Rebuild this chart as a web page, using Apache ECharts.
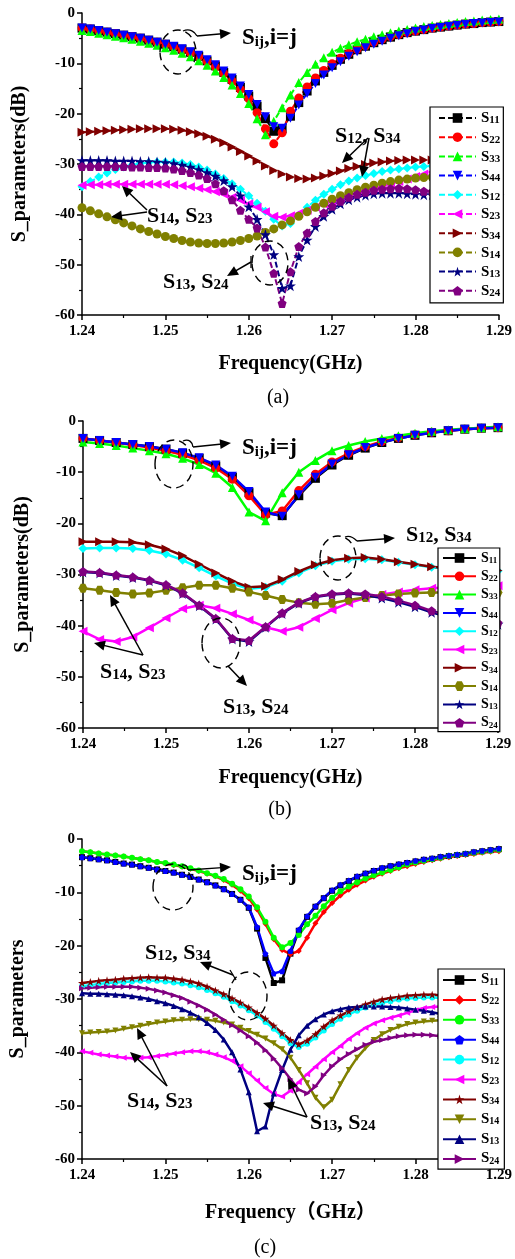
<!DOCTYPE html>
<html><head><meta charset="utf-8">
<script src="https://cdn.jsdelivr.net/npm/echarts@6/dist/echarts.min.js"></script>
<style>html,body{margin:0;padding:0;background:#fff}#c{width:515px;height:1259px}</style>
</head><body><div id="c"></div>
<script>
// ---------- tick labels & categories ----------
const X_TICKS = ['1.24','1.25','1.26','1.27','1.28','1.29'];
const Y_TICKS = ['-60','-50','-40','-30','-20','-10','0'];
const NAMES = ['S11','S22','S33','S44','S12','S23','S34','S14','S13','S24'];

// frequency sampling grids (GHz)
function grid(start, step, n){ const a=[]; for(let i=0;i<n;i++) a.push(+(start+i*step).toFixed(4)); return a; }
const FREQ_A = grid(1.24, 0.001, 51);
const FREQ_B = grid(1.24, 0.002, 26);
const FREQ_C = grid(1.24, 0.001, 51);

// ---------- panel (a) ----------
const A_S11 = [-3.0,-3.2,-3.5,-3.8,-4.1,-4.4,-4.7,-5.0,-5.4,-5.8,-6.2,-6.7,-7.2,-7.8,-8.6,-9.5,-10.5,-11.8,-13.2,-14.8,-16.5,-18.5,-21.0,-23.5,-23.0,-20.5,-17.8,-15.5,-13.5,-11.8,-10.4,-9.2,-8.2,-7.3,-6.6,-5.9,-5.3,-4.8,-4.3,-3.9,-3.6,-3.3,-3.0,-2.8,-2.6,-2.4,-2.2,-2.1,-1.9,-1.8,-1.7];
const A_S22 = [-3.0,-3.2,-3.5,-3.8,-4.1,-4.4,-4.7,-5.0,-5.4,-5.8,-6.2,-6.7,-7.3,-7.9,-8.7,-9.6,-10.7,-12.0,-13.5,-15.2,-17.0,-19.8,-23.0,-26.0,-23.8,-19.5,-16.9,-14.7,-12.9,-11.4,-10.1,-9.0,-8.0,-7.2,-6.5,-5.8,-5.2,-4.7,-4.3,-3.9,-3.6,-3.3,-3.0,-2.8,-2.6,-2.4,-2.2,-2.1,-1.9,-1.8,-1.7];
const A_S33 = [-3.5,-3.7,-4.0,-4.3,-4.6,-4.9,-5.2,-5.6,-6.0,-6.4,-6.9,-7.4,-8.0,-8.7,-9.5,-10.4,-11.5,-12.8,-14.3,-16.0,-18.0,-21.0,-24.2,-21.5,-18.8,-16.3,-13.8,-11.8,-10.2,-8.9,-7.8,-7.0,-6.3,-5.7,-5.2,-4.7,-4.3,-3.9,-3.6,-3.3,-3.0,-2.7,-2.5,-2.3,-2.1,-1.9,-1.7,-1.6,-1.4,-1.3,-1.2];
const A_S44 = [-3.0,-3.2,-3.5,-3.8,-4.1,-4.4,-4.7,-5.0,-5.4,-5.8,-6.2,-6.6,-7.1,-7.7,-8.4,-9.3,-10.3,-11.5,-12.9,-14.5,-16.2,-18.2,-20.6,-22.6,-22.9,-20.9,-18.3,-16.0,-14.0,-12.3,-10.9,-9.7,-8.6,-7.7,-6.9,-6.2,-5.6,-5.0,-4.5,-4.1,-3.7,-3.4,-3.1,-2.9,-2.7,-2.5,-2.3,-2.1,-2.0,-1.9,-1.8];
const A_S12 = [-34.5,-33.5,-32.6,-31.8,-31.1,-30.6,-30.2,-29.9,-29.7,-29.6,-29.6,-29.6,-29.8,-30.1,-30.6,-31.2,-32.0,-32.9,-33.9,-35.0,-36.3,-37.8,-39.4,-41.0,-42.3,-41.8,-40.2,-38.6,-37.2,-36.0,-35.0,-34.1,-33.4,-32.8,-32.3,-31.9,-31.5,-31.2,-31.0,-30.8,-30.6,-30.5,-30.4,-30.4,-30.3,-30.3,-30.3,-30.2,-30.2,-30.2,-30.2];
const A_S23 = [-34.2,-34.1,-34.1,-34.0,-34.0,-34.0,-34.0,-34.0,-34.0,-34.0,-34.0,-34.1,-34.3,-34.5,-34.8,-35.1,-35.5,-36.0,-36.6,-37.2,-37.9,-38.6,-39.5,-40.4,-40.6,-40.3,-39.8,-39.2,-38.6,-38.0,-37.4,-36.8,-36.3,-35.8,-35.3,-34.9,-34.4,-34.0,-33.5,-33.0,-32.5,-32.0,-31.6,-31.3,-31.0,-30.8,-30.7,-30.6,-30.6,-30.5,-30.5];
const A_S34 = [-23.7,-23.6,-23.5,-23.4,-23.3,-23.2,-23.1,-23.0,-23.0,-23.0,-23.0,-23.1,-23.3,-23.6,-24.0,-24.5,-25.1,-25.8,-26.6,-27.5,-28.4,-29.4,-30.4,-31.3,-32.0,-32.6,-32.9,-33.0,-32.8,-32.4,-31.9,-31.4,-30.9,-30.5,-30.1,-29.8,-29.6,-29.4,-29.3,-29.2,-29.2,-29.2,-29.2,-29.2,-29.2,-29.2,-29.2,-29.3,-29.3,-29.3,-29.3];
const A_S14 = [-38.7,-39.3,-39.9,-40.5,-41.1,-41.7,-42.3,-42.9,-43.4,-43.9,-44.4,-44.8,-45.2,-45.5,-45.7,-45.8,-45.8,-45.7,-45.5,-45.2,-44.8,-44.3,-43.6,-42.9,-42.1,-41.3,-40.4,-39.5,-38.6,-37.8,-37.0,-36.3,-35.7,-35.1,-34.6,-34.2,-33.8,-33.5,-33.2,-33.0,-32.8,-32.7,-32.6,-32.6,-32.5,-32.5,-32.5,-32.4,-32.4,-32.4,-32.4];
const A_S13 = [-29.3,-29.3,-29.3,-29.3,-29.4,-29.4,-29.4,-29.5,-29.5,-29.6,-29.7,-29.9,-30.2,-30.6,-31.1,-31.7,-32.4,-33.3,-34.5,-36.3,-38.5,-41.0,-44.0,-48.0,-54.7,-54.2,-48.4,-45.1,-42.4,-40.4,-39.0,-37.9,-37.1,-36.6,-36.2,-35.9,-35.8,-35.8,-35.8,-35.9,-36.0,-36.1,-36.1,-36.2,-36.2,-36.2,-36.3,-36.3,-36.3,-36.3,-36.3];
const A_S24 = [-30.5,-30.5,-30.5,-30.5,-30.5,-30.5,-30.6,-30.6,-30.7,-30.7,-30.8,-31.0,-31.3,-31.7,-32.2,-32.9,-33.9,-35.3,-37.1,-39.2,-41.0,-42.7,-46.5,-51.7,-57.7,-51.4,-46.4,-43.7,-41.4,-39.7,-38.4,-37.4,-36.6,-36.0,-35.6,-35.2,-35.0,-34.9,-34.8,-34.9,-35.1,-35.4,-35.5,-35.6,-35.7,-35.7,-35.8,-35.8,-35.8,-35.8,-35.8];

// ---------- panel (b) ----------
const B_S11 = [-3.4,-3.8,-4.2,-4.6,-5.0,-5.5,-6.3,-7.3,-8.8,-11.0,-14.0,-18.0,-18.5,-14.6,-11.2,-8.6,-6.7,-5.3,-4.2,-3.4,-2.8,-2.3,-1.9,-1.6,-1.4,-1.3];
const B_S22 = [-3.4,-3.8,-4.2,-4.7,-5.2,-5.8,-6.6,-7.7,-9.2,-11.4,-14.6,-18.3,-17.6,-13.6,-10.4,-8.0,-6.3,-5.0,-4.0,-3.3,-2.7,-2.2,-1.9,-1.6,-1.4,-1.3];
const B_S33 = [-4.1,-4.4,-4.8,-5.3,-5.8,-6.4,-7.3,-8.5,-10.2,-13.0,-17.8,-19.5,-14.0,-10.0,-7.7,-5.8,-4.8,-4.0,-3.4,-2.9,-2.4,-2.0,-1.7,-1.5,-1.3,-1.1];
const B_S44 = [-3.4,-3.8,-4.2,-4.6,-5.0,-5.5,-6.2,-7.2,-8.6,-10.8,-13.8,-17.8,-18.6,-14.4,-11.0,-8.4,-6.6,-5.2,-4.2,-3.4,-2.8,-2.3,-1.9,-1.6,-1.4,-1.3];
const B_S12 = [-24.9,-24.8,-24.8,-24.9,-25.3,-26.0,-27.2,-28.7,-30.3,-31.8,-32.8,-32.5,-31.3,-29.7,-28.3,-27.4,-27.0,-26.9,-27.1,-27.6,-28.1,-28.6,-28.9,-29.1,-29.2,-29.3];
const B_S23 = [-41.1,-42.7,-43.1,-42.2,-40.4,-38.5,-36.7,-36.0,-36.6,-37.7,-38.9,-40.3,-41.1,-40.3,-38.6,-36.9,-35.6,-34.6,-33.9,-33.4,-33.0,-32.7,-32.5,-32.4,-32.3,-32.2];
const B_S34 = [-23.6,-23.6,-23.6,-23.7,-24.2,-25.0,-26.3,-28.0,-29.7,-31.3,-32.5,-32.3,-31.0,-29.4,-28.1,-27.2,-26.8,-26.7,-27.0,-27.5,-28.0,-28.5,-28.8,-29.0,-29.1,-29.2];
const B_S14 = [-32.7,-33.1,-33.5,-33.8,-33.6,-33.1,-32.6,-32.1,-32.1,-32.7,-33.4,-34.1,-34.9,-35.5,-35.8,-35.6,-35.0,-34.5,-34.1,-33.8,-33.6,-33.5,-33.5,-33.5,-33.5,-33.5];
const B_S13 = [-29.5,-29.7,-30.2,-30.6,-31.2,-32.1,-33.7,-36.1,-38.7,-42.6,-43.1,-40.3,-37.6,-35.6,-34.4,-33.9,-33.7,-34.0,-34.6,-35.4,-36.3,-37.4,-38.3,-39.0,-39.4,-39.7];
const B_S24 = [-29.4,-29.6,-30.1,-30.5,-31.1,-32.0,-33.6,-36.0,-38.6,-42.5,-42.9,-40.2,-37.5,-35.5,-34.3,-33.8,-33.6,-33.8,-34.3,-35.1,-36.0,-37.1,-38.0,-38.7,-39.2,-39.5];

// ---------- panel (c) ----------
const C_S11 = [-3.4,-3.6,-3.8,-4.0,-4.3,-4.6,-4.8,-5.1,-5.4,-5.7,-6.0,-6.3,-6.7,-7.1,-7.6,-8.1,-8.7,-9.4,-10.3,-11.4,-12.9,-16.8,-22.3,-27.0,-26.5,-21.5,-17.2,-14.6,-12.7,-11.1,-9.7,-8.7,-7.9,-7.1,-6.5,-6.0,-5.5,-5.1,-4.8,-4.5,-4.2,-3.9,-3.7,-3.4,-3.2,-3.0,-2.8,-2.5,-2.3,-2.1,-1.9];
const C_S22 = [-2.3,-2.5,-2.7,-2.9,-3.1,-3.3,-3.5,-3.8,-4.0,-4.3,-4.6,-4.9,-5.2,-5.6,-6.0,-6.5,-7.0,-7.7,-8.6,-9.7,-11.1,-13.2,-15.9,-18.8,-20.8,-21.6,-21.0,-18.5,-15.8,-13.7,-12.0,-10.6,-9.5,-8.6,-7.8,-7.1,-6.5,-6.0,-5.5,-5.1,-4.7,-4.3,-4.0,-3.7,-3.4,-3.2,-3.0,-2.8,-2.6,-2.4,-2.3];
const C_S33 = [-2.3,-2.5,-2.7,-2.9,-3.1,-3.3,-3.5,-3.8,-4.0,-4.3,-4.5,-4.8,-5.1,-5.5,-5.9,-6.4,-6.9,-7.5,-8.4,-9.4,-10.8,-12.8,-15.5,-18.5,-20.3,-19.5,-18.0,-16.0,-14.4,-12.6,-11.0,-9.8,-8.9,-8.1,-7.4,-6.8,-6.3,-5.8,-5.3,-4.8,-4.4,-4.1,-3.8,-3.5,-3.2,-3.0,-2.8,-2.6,-2.4,-2.2,-2.0];
const C_S44 = [-3.4,-3.6,-3.8,-4.0,-4.3,-4.6,-4.8,-5.1,-5.4,-5.7,-6.0,-6.3,-6.7,-7.1,-7.6,-8.1,-8.7,-9.4,-10.3,-11.4,-12.8,-16.5,-21.5,-25.2,-24.8,-21.0,-17.0,-14.5,-12.6,-11.0,-9.6,-8.6,-7.8,-7.0,-6.4,-5.9,-5.4,-5.0,-4.7,-4.4,-4.1,-3.8,-3.6,-3.3,-3.1,-2.9,-2.7,-2.4,-2.2,-2.0,-1.8];
const C_S12 = [-27.6,-27.4,-27.2,-27.0,-26.9,-26.8,-26.7,-26.6,-26.6,-26.6,-26.7,-26.9,-27.1,-27.4,-27.8,-28.3,-28.9,-29.6,-30.4,-31.2,-32.1,-33.1,-34.3,-35.6,-37.0,-38.3,-39.0,-38.4,-37.2,-35.9,-34.7,-33.7,-32.9,-32.2,-31.6,-31.1,-30.7,-30.4,-30.1,-29.9,-29.8,-29.7,-29.7,-29.8,-29.9,-30.1,-30.3,-30.5,-30.8,-31.1,-31.4];
const C_S23 = [-39.8,-40.1,-40.4,-40.6,-40.8,-41.0,-41.1,-41.0,-40.9,-40.7,-40.5,-40.2,-40.0,-39.8,-39.8,-40.0,-40.4,-40.9,-41.6,-42.6,-43.9,-45.3,-46.7,-47.8,-48.3,-47.2,-45.6,-44.1,-42.7,-41.3,-40.0,-38.8,-37.5,-36.4,-35.4,-34.6,-34.0,-33.5,-33.1,-32.6,-32.1,-31.7,-31.5,-31.4,-31.4,-31.5,-31.7,-32.0,-32.3,-32.6,-33.0];
const C_S34 = [-27.0,-26.8,-26.6,-26.5,-26.4,-26.2,-26.1,-26.0,-25.9,-26.0,-26.0,-26.2,-26.4,-26.7,-27.1,-27.7,-28.4,-29.1,-29.9,-30.7,-31.6,-32.6,-33.7,-35.0,-36.4,-37.7,-38.5,-37.8,-36.6,-35.2,-34.0,-33.1,-32.3,-31.6,-31.0,-30.5,-30.1,-29.8,-29.6,-29.4,-29.3,-29.2,-29.2,-29.3,-29.4,-29.6,-29.8,-30.1,-30.4,-30.7,-31.0];
const C_S14 = [-36.4,-36.3,-36.2,-36.1,-35.9,-35.6,-35.3,-35.0,-34.7,-34.4,-34.2,-34.0,-33.9,-33.8,-33.8,-33.9,-34.1,-34.4,-34.8,-35.4,-36.0,-36.7,-37.4,-38.3,-39.4,-41.0,-43.3,-45.8,-48.5,-50.3,-48.9,-46.0,-43.3,-41.0,-39.2,-37.7,-36.6,-35.8,-35.2,-34.7,-34.4,-34.2,-34.1,-34.0,-34.0,-34.0,-34.1,-34.2,-34.3,-34.5,-34.7];
const C_S13 = [-28.9,-29.0,-29.0,-29.1,-29.2,-29.3,-29.5,-29.7,-30.0,-30.4,-30.8,-31.3,-31.9,-32.6,-33.4,-34.5,-35.8,-37.6,-40.0,-43.2,-47.5,-54.8,-53.9,-47.7,-43.3,-39.5,-36.8,-35.0,-33.8,-32.9,-32.3,-31.9,-31.6,-31.5,-31.4,-31.4,-31.4,-31.5,-31.6,-31.8,-32.0,-32.2,-32.5,-32.8,-33.2,-33.6,-34.1,-34.6,-35.1,-35.6,-36.1];
const C_S24 = [-28.0,-27.9,-27.8,-27.7,-27.7,-27.7,-27.7,-27.9,-28.1,-28.4,-28.8,-29.3,-29.8,-30.5,-31.2,-32.0,-32.9,-33.9,-34.9,-35.9,-37.0,-38.2,-39.6,-41.2,-43.0,-45.0,-47.0,-47.7,-46.4,-44.3,-42.6,-41.3,-40.3,-39.4,-38.6,-38.0,-37.7,-37.3,-37.0,-36.8,-36.7,-36.7,-36.8,-37.0,-37.3,-37.6,-38.0,-38.3,-38.7,-39.0,-39.2];

// ---------- styles ----------
const COLORS = ['#000000','#ff0000','#00ff00','#0000ff','#00ffff','#ff00ff','#800000','#808000','#000080','#800080'];
const SYM = {
  sq:'rect', ci:'circle', up:'triangle', di:'diamond',
  dn:'path://M0,0L10,0L5,9Z', lt:'path://M9,0L9,10L0,5Z', rt:'path://M0,0L9,5L0,10Z',
  star:'path://M50,0L61.2,34.5L97.6,34.5L68.2,55.9L79.4,90.5L50,69.1L20.6,90.5L31.8,55.9L2.4,34.5L38.8,34.5Z',
  pent:'path://M50,0L97.6,34.5L79.4,90.5L20.6,90.5L2.4,34.5Z',
  hex:'path://M25,0L75,0L100,43L75,86L25,86L0,43Z'
};
const SERIF = '"Liberation Serif","Times New Roman",serif';

const PANELS = [
  {key:'a', freq:FREQ_A, data:[A_S11,A_S22,A_S33,A_S44,A_S12,A_S23,A_S34,A_S14,A_S13,A_S24],
   sym:['sq','ci','up','dn','di','lt','rt','ci','star','pent'], size:9, lw:2, dash:[6,3],
   grid:{left:82, top:13, width:418, height:302}, yName:'S_parameters(dB)', xName:'Frequency(GHz)', xGap:39, yGap:52,
   legend:{left:430, top:107, itemWidth:37, itemGap:4.2, padding:[4,3,4,8], sFs:15, nFs:11, lh:16}},
  {key:'b', freq:FREQ_B, data:[B_S11,B_S22,B_S33,B_S44,B_S12,B_S23,B_S34,B_S14,B_S13,B_S24],
   sym:['sq','ci','up','dn','di','lt','rt','hex','star','pent'], size:9, lw:2.5, dash:'solid',
   grid:{left:83, top:421, width:415, height:307}, yName:'S_parameters(dB)', xName:'Frequency(GHz)', xGap:40, yGap:50,
   legend:{left:438, top:548, itemWidth:33, itemGap:4.3, padding:[3,2,2,4], sFs:14, nFs:9, lh:14}},
  {key:'c', freq:FREQ_C, data:[C_S11,C_S22,C_S33,C_S44,C_S12,C_S23,C_S34,C_S14,C_S13,C_S24],
   sym:['sq','di','ci','pent','ci','lt','star','dn','up','rt'], size:6, lw:2.5, dash:'solid',
   grid:{left:76, top:839, width:429, height:320}, yName:'S_parameters', xName:'Frequency（GHz）', xGap:44, yGap:54,
   legend:{left:438, top:969, itemWidth:33, itemGap:4.9, padding:[3,5,3,4], sFs:15, nFs:10, lh:14}}
];

const grids=[], xAxes=[], yAxes=[], series=[], legends=[];
PANELS.forEach((p, pi) => {
  grids.push(Object.assign({containLabel:false}, p.grid));
  xAxes.push({
    type:'value', gridIndex:pi, min:1.24, max:1.29, interval:0.01,
    axisLine:{show:true, onZero:false, lineStyle:{color:'#000', width:1.5}},
    axisTick:{show:true, inside:false, length:5, lineStyle:{color:'#000', width:1.5}},
    minorTick:{show:true, splitNumber:2, length:3, lineStyle:{color:'#000', width:1.2}},
    splitLine:{show:false},
    axisLabel:{margin:9, color:'#000', fontFamily:SERIF, fontWeight:'bold', fontSize:15,
      formatter: v => X_TICKS[Math.round((v-1.24)/0.01)]},
    name:p.xName, nameLocation:'middle', nameGap:p.xGap,
    nameTextStyle:{color:'#000', fontFamily:SERIF+',"Noto Sans CJK SC"', fontWeight:'bold', fontSize:20}
  });
  yAxes.push({
    type:'value', gridIndex:pi, min:-60, max:0, interval:10,
    axisLine:{show:true, onZero:false, lineStyle:{color:'#000', width:1.5}},
    axisTick:{show:true, inside:false, length:5, lineStyle:{color:'#000', width:1.5}},
    minorTick:{show:true, splitNumber:2, length:3, lineStyle:{color:'#000', width:1.2}},
    splitLine:{show:false},
    axisLabel:{margin:7, color:'#000', fontFamily:SERIF, fontWeight:'bold', fontSize:15,
      formatter: v => Y_TICKS[Math.round((v+60)/10)]},
    name:p.yName, nameLocation:'middle', nameGap:p.yGap,
    nameTextStyle:{color:'#000', fontFamily:SERIF, fontWeight:'bold', fontSize:20}
  });
  const names=[];
  p.data.forEach((vals, i) => {
    const nm = p.key + ':' + NAMES[i];
    names.push(nm);
    series.push({
      type:'line', name:nm, xAxisIndex:pi, yAxisIndex:pi,
      data: p.freq.map((f, j) => [f, vals[j]]),
      symbol: SYM[p.sym[i]], symbolSize: p.sym[i]==='star' ? p.size+2 : p.size, showAllSymbol:true,
      lineStyle:{color:COLORS[i], width:p.lw, type:p.dash},
      itemStyle:{color:COLORS[i], borderWidth:0},
      emphasis:{disabled:true}, silent:true, clip:true, animation:false
    });
  });
  const L = p.legend;
  legends.push({
    data:names, orient:'vertical', left:L.left, top:L.top, itemWidth:L.itemWidth, itemHeight:12,
    itemGap:L.itemGap, padding:L.padding, backgroundColor:'#fff', borderColor:'#000', borderWidth:1.2,
    selectedMode:false,
    formatter: n => '{s|S}{n|' + n.split(':')[1].slice(1) + '}',
    textStyle:{color:'#000', fontFamily:SERIF, fontWeight:'bold', rich:{
      s:{fontFamily:SERIF, fontWeight:'bold', fontSize:L.sFs, lineHeight:L.lh, verticalAlign:'bottom', color:'#000'},
      n:{fontFamily:SERIF, fontWeight:'bold', fontSize:L.nFs, lineHeight:L.nFs+2, verticalAlign:'bottom', color:'#000'}
    }}
  });
});

// ---------- annotations (pixel positions) ----------
const RICH = {
  b:{fontFamily:SERIF, fontWeight:'bold', fontSize:22, fill:'#000', verticalAlign:'bottom', lineHeight:24},
  s:{fontFamily:SERIF, fontWeight:'bold', fontSize:15, fill:'#000', verticalAlign:'bottom', lineHeight:17},
  B:{fontFamily:SERIF, fontWeight:'bold', fontSize:23, fill:'#000', verticalAlign:'bottom', lineHeight:25},
  S:{fontFamily:SERIF, fontWeight:'bold', fontSize:15, fill:'#000', verticalAlign:'bottom', lineHeight:17}
};
const T_SII = '{B|S}{S|ij}{B|,i=j}';
const T_1234 = '{b|S}{s|12}{b|, S}{s|34}';
const T_1423 = '{b|S}{s|14}{b|, S}{s|23}';
const T_1324 = '{b|S}{s|13}{b|, S}{s|24}';
const LABELS = [
  [T_SII,242,37],[T_1234,335,135],[T_1423,147,215],[T_1324,163,281],
  [T_SII,242,447],[T_1234,406,534],[T_1423,100,671],[T_1324,223,706],
  [T_SII,242,873],[T_1234,145,952],[T_1423,127,1100],[T_1324,310,1122]
];
const ELLIPSES = [[178,52,18,22],[270,263,18,22],[174,464,19,24],[338,558,18,22],[221,643,19,25],[173,887,20,23],[248,996,19,24]];
const ARROWS = [
  [197,36,231,33],[368,138,342,163],[369,138,362,177],[147,210,122,186],[147,212,111,217],[251,262,227,276],
  [193,447,231,443],[357,541,395,538],[143,655,110,595],[143,655,94,643],[228,666,247,686],
  [188,870,231,867],[233,975,200,962],[167,1086,137,1028],[167,1086,130,1052],[307,1117,263,1103],[307,1117,288,1078]
];
const CURVES = [[183,31,190,28,195,32,197,36],[183,441,189,438,193,443,193,447],[345,537,350,535,354,538,357,541],[182,865,186,864,188,867,188,870]];
const TICKS = [[251,256,251,268],[230,970,236,980]];
const CAPTIONS = [['(a)',278,398],['(b)',280,810],['(c)',265,1248]];

const graphic = [];
LABELS.forEach(([t,x,y]) => graphic.push({type:'text', z:100, style:{text:t, x, y, align:'left', textAlign:'left', verticalAlign:'middle', textVerticalAlign:'middle', rich:RICH}}));
ELLIPSES.forEach(([cx,cy,rx,ry]) => graphic.push({type:'ellipse', z:100, shape:{cx,cy,rx,ry}, style:{fill:'none', stroke:'#000', lineWidth:1.4, lineDash:[8,5]}}));
ARROWS.forEach(([x1,y1,x2,y2]) => {
  const dx=x2-x1, dy=y2-y1, len=Math.hypot(dx,dy), ux=dx/len, uy=dy/len, L=11, W=5;
  const bx=x2-ux*L, by=y2-uy*L;
  graphic.push({type:'line', z:100, shape:{x1,y1,x2:bx+ux*2,y2:by+uy*2}, style:{stroke:'#000', lineWidth:1.5}});
  graphic.push({type:'polygon', z:100, shape:{points:[[x2,y2],[bx-uy*W,by+ux*W],[bx+uy*W,by-ux*W]]}, style:{fill:'#000'}});
});
CURVES.forEach(([x1,y1,c1x,c1y,c2x,c2y,x2,y2]) => graphic.push({type:'bezierCurve', z:100, shape:{x1,y1,cpx1:c1x,cpy1:c1y,cpx2:c2x,cpy2:c2y,x2,y2}, style:{fill:'none', stroke:'#000', lineWidth:1.3}}));
TICKS.forEach(([x1,y1,x2,y2]) => graphic.push({type:'line', z:100, shape:{x1,y1,x2,y2}, style:{stroke:'#000', lineWidth:1.3}}));
CAPTIONS.forEach(([t,x,y]) => graphic.push({type:'text', z:100, style:{text:t, x, y, align:'center', textAlign:'center', verticalAlign:'middle', textVerticalAlign:'middle', font:'20px '+SERIF, fill:'#000'}}));

const chart = echarts.init(document.getElementById('c'), null, {renderer:'canvas'});
chart.setOption({
  animation:false, backgroundColor:'#fff',
  grid:grids, xAxis:xAxes, yAxis:yAxes, series, legend:legends, graphic
});
</script></body></html>
